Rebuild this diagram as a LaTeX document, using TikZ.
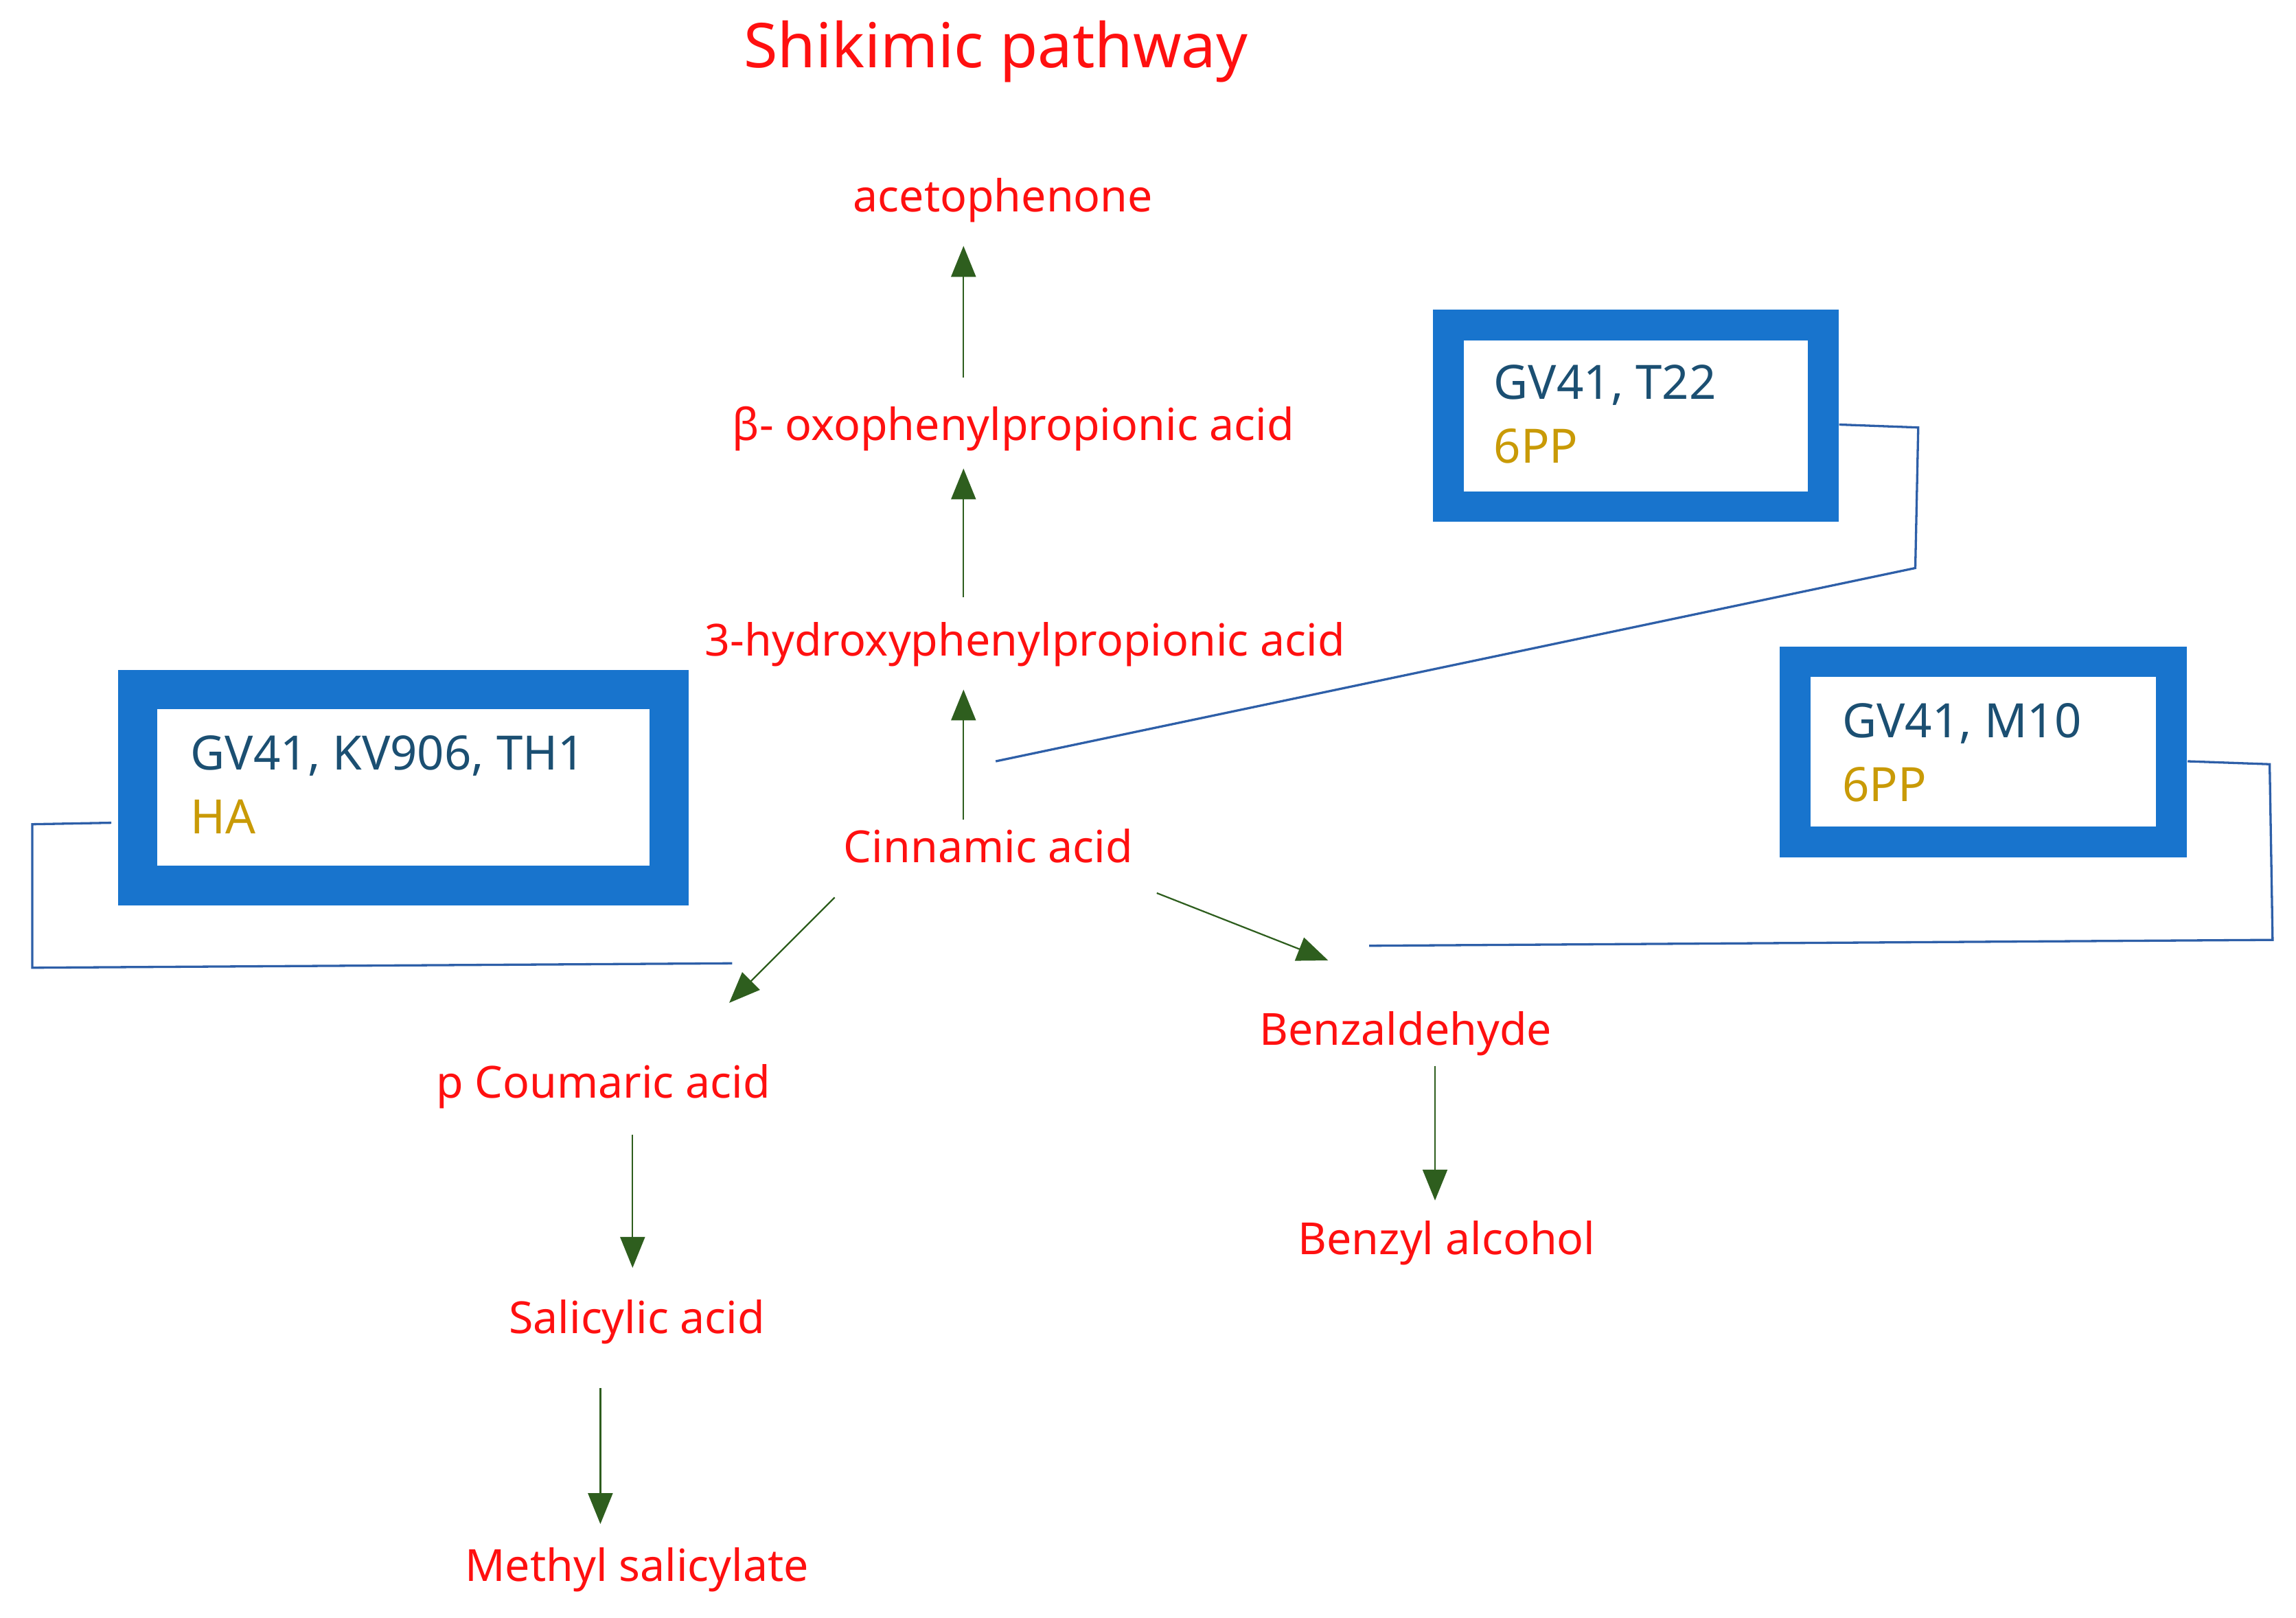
\documentclass[tikz,border=0pt]{standalone}
\usepackage{fontspec}
\setmainfont{Noto Sans}
\usetikzlibrary{arrows.meta}
\definecolor{tred}{HTML}{FF1010}
\definecolor{agreen}{HTML}{2E5E1E}
\definecolor{bblue}{HTML}{1874CD}
\definecolor{dblue}{HTML}{1B4F72}
\definecolor{gold}{HTML}{C99A06}
\definecolor{lblue}{HTML}{2E5FA8}
\begin{document}
\begin{tikzpicture}[x=0.05cm,y=-0.05cm,
 cmp/.style={text=tred,font=\fontsize{43}{50}\selectfont\bfseries,inner sep=0pt},
 arr/.style={agreen,line width=1.5pt,-{Triangle[length=30pt,width=24pt]}},
 box/.style={draw=bblue,fill=white},
 lnk/.style={lblue,line width=2.2pt},
 bt/.style={font=\fontsize{46}{62}\selectfont\bfseries,anchor=west,inner sep=0pt,align=left}]
\useasboundingbox (0,0) rectangle (1568,1105);
\node[cmp,font=\fontsize{60}{70}\selectfont\bfseries] (title) at (680,35) {Shikimic pathway};
\node[cmp] (aceto) at (685,137) {acetophenone};
\node[cmp] (oxo) at (692,293) {β- oxophenylpropionic acid};
\node[cmp] (hyd) at (700,440) {3-hydroxyphenylpropionic acid};
\node[cmp] (cin) at (675,578) {Cinnamic acid};
\node[cmp] (cou) at (412,742) {p Coumaric acid};
\node[cmp] (sal) at (435,903) {Salicylic acid};
\node[cmp] (msal) at (435,1072) {Methyl salicylate};
\node[cmp] (benz) at (960,706) {Benzaldehyde};
\node[cmp] (balc) at (988,849) {Benzyl alcohol};
% arrows
\coordinate (a1s) at (658,258); \coordinate (a1e) at (658,168);
\coordinate (a2s) at (658,408); \coordinate (a2e) at (658,320);
\coordinate (a3s) at (658,560); \coordinate (a3e) at (658,471);
\coordinate (a4s) at (570,613); \coordinate (a4e) at (498,685);
\coordinate (a5s) at (790,610); \coordinate (a5e) at (907,656);
\coordinate (a6s) at (432,775); \coordinate (a6e) at (432,866);
\coordinate (a7s) at (410,948); \coordinate (a7e) at (410,1041);
\coordinate (a8s) at (980,728); \coordinate (a8e) at (980,820);
\foreach \i in {1,...,8}{\draw[arr] (a\i s) -- (a\i e);}
% boxes
\draw[box,line width=1.35cm] (94,471) rectangle (457,605);
\node[bt] (b1) at (130,536) {\textcolor{dblue}{GV41, KV906, TH1}\\\textcolor{gold}{HA}};
\draw[box,line width=1.05cm] (989,222) rectangle (1245,346);
\node[bt] (b2) at (1020,283) {\textcolor{dblue}{GV41, T22}\\\textcolor{gold}{6PP}};
\draw[box,line width=1.05cm] (1226,452) rectangle (1483,575);
\node[bt] (b3) at (1258,514) {\textcolor{dblue}{GV41, M10}\\\textcolor{gold}{6PP}};
% links
\draw[lnk] (76,562) -- (22,563) -- (22,661) -- (500,658);
\draw[lnk] (1256,290) -- (1310,292) -- (1308,388) -- (680,520);
\draw[lnk] (1494,520) -- (1550,522) -- (1552,642) -- (935,646);
\end{tikzpicture}
\end{document}
